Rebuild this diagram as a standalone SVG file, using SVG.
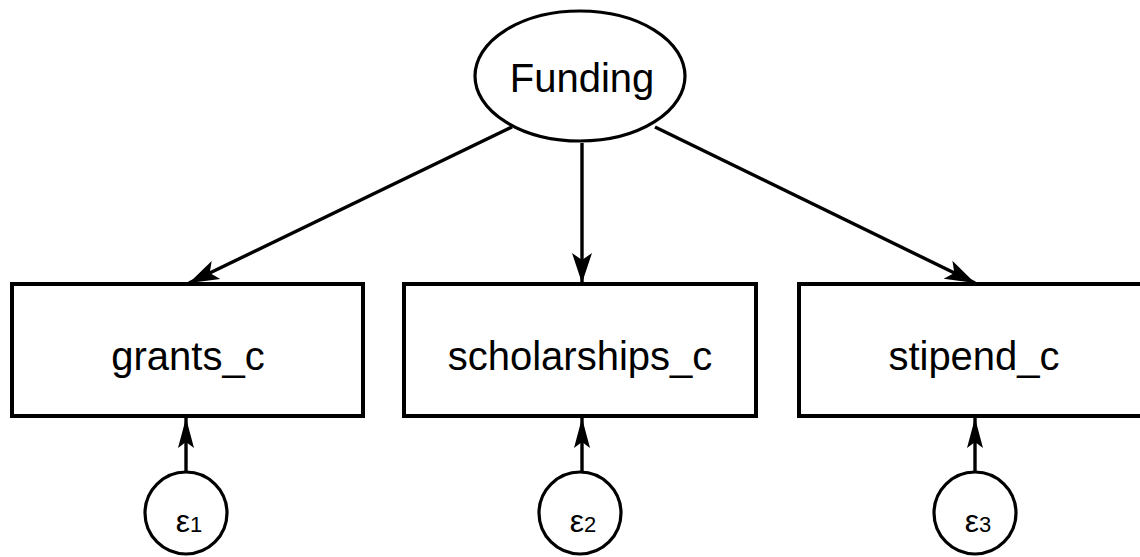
<svg xmlns="http://www.w3.org/2000/svg" width="1140" height="557" viewBox="0 0 1140 557">
<style>
.box{fill:#fff;stroke:#000;stroke-width:4}
.oval{fill:#fff;stroke:#000;stroke-width:3.2}
.lbl{font-family:"Liberation Sans",Arial,sans-serif;font-size:40px;fill:#000;text-anchor:middle}
.eps{font-family:"Liberation Sans",Arial,sans-serif;font-size:32px;fill:#000;text-anchor:middle}
.sub{font-size:22px}
.conn{stroke:#000;stroke-width:3.4;fill:none}
</style>
<defs>
<marker id="ah" viewBox="0 0 30 22" refX="30" refY="11" markerWidth="30" markerHeight="22" markerUnits="userSpaceOnUse" orient="auto">
<path d="M0,1 L30,11 L0,21 L7,11 z" fill="#000"/>
</marker>
<marker id="ahs" viewBox="0 0 30 18" refX="30" refY="9" markerWidth="30" markerHeight="18" markerUnits="userSpaceOnUse" orient="auto">
<path d="M0,1 L30,9 L0,17 L6,9 z" fill="#000"/>
</marker>
</defs>
<g id="connectors">
<line class="conn" x1="512" y1="127" x2="189" y2="283" marker-end="url(#ah)"/>
<line class="conn" x1="582" y1="143" x2="582" y2="283" marker-end="url(#ah)"/>
<line class="conn" x1="655" y1="127" x2="975" y2="283" marker-end="url(#ah)"/>
<line class="conn" x1="186" y1="472" x2="186" y2="418" marker-end="url(#ahs)"/>
<line class="conn" x1="582" y1="472" x2="582" y2="418" marker-end="url(#ahs)"/>
<line class="conn" x1="975" y1="472" x2="975" y2="418" marker-end="url(#ahs)"/>
</g>
<g id="funding">
<ellipse class="oval" cx="580" cy="76" rx="105" ry="65"/>
<text class="lbl" x="582" y="92">Funding</text>
</g>
<g id="grants_c">
<rect class="box" x="12" y="284" width="351" height="132"/>
<text class="lbl" x="188" y="370">grants_c</text>
</g>
<g id="scholarships_c">
<rect class="box" x="404" y="284" width="352" height="132"/>
<text class="lbl" x="580" y="370">scholarships_c</text>
</g>
<g id="stipend_c">
<rect class="box" x="799" y="284" width="352" height="132"/>
<text class="lbl" x="974" y="370">stipend_c</text>
</g>
<g id="e1">
<circle class="oval" cx="186" cy="513" r="41"/>
<text class="eps" x="189" y="532">ε<tspan class="sub">1</tspan></text>
</g>
<g id="e2">
<circle class="oval" cx="580" cy="513" r="41"/>
<text class="eps" x="583" y="532">ε<tspan class="sub">2</tspan></text>
</g>
<g id="e3">
<circle class="oval" cx="975" cy="513" r="41"/>
<text class="eps" x="978" y="532">ε<tspan class="sub">3</tspan></text>
</g>
</svg>
